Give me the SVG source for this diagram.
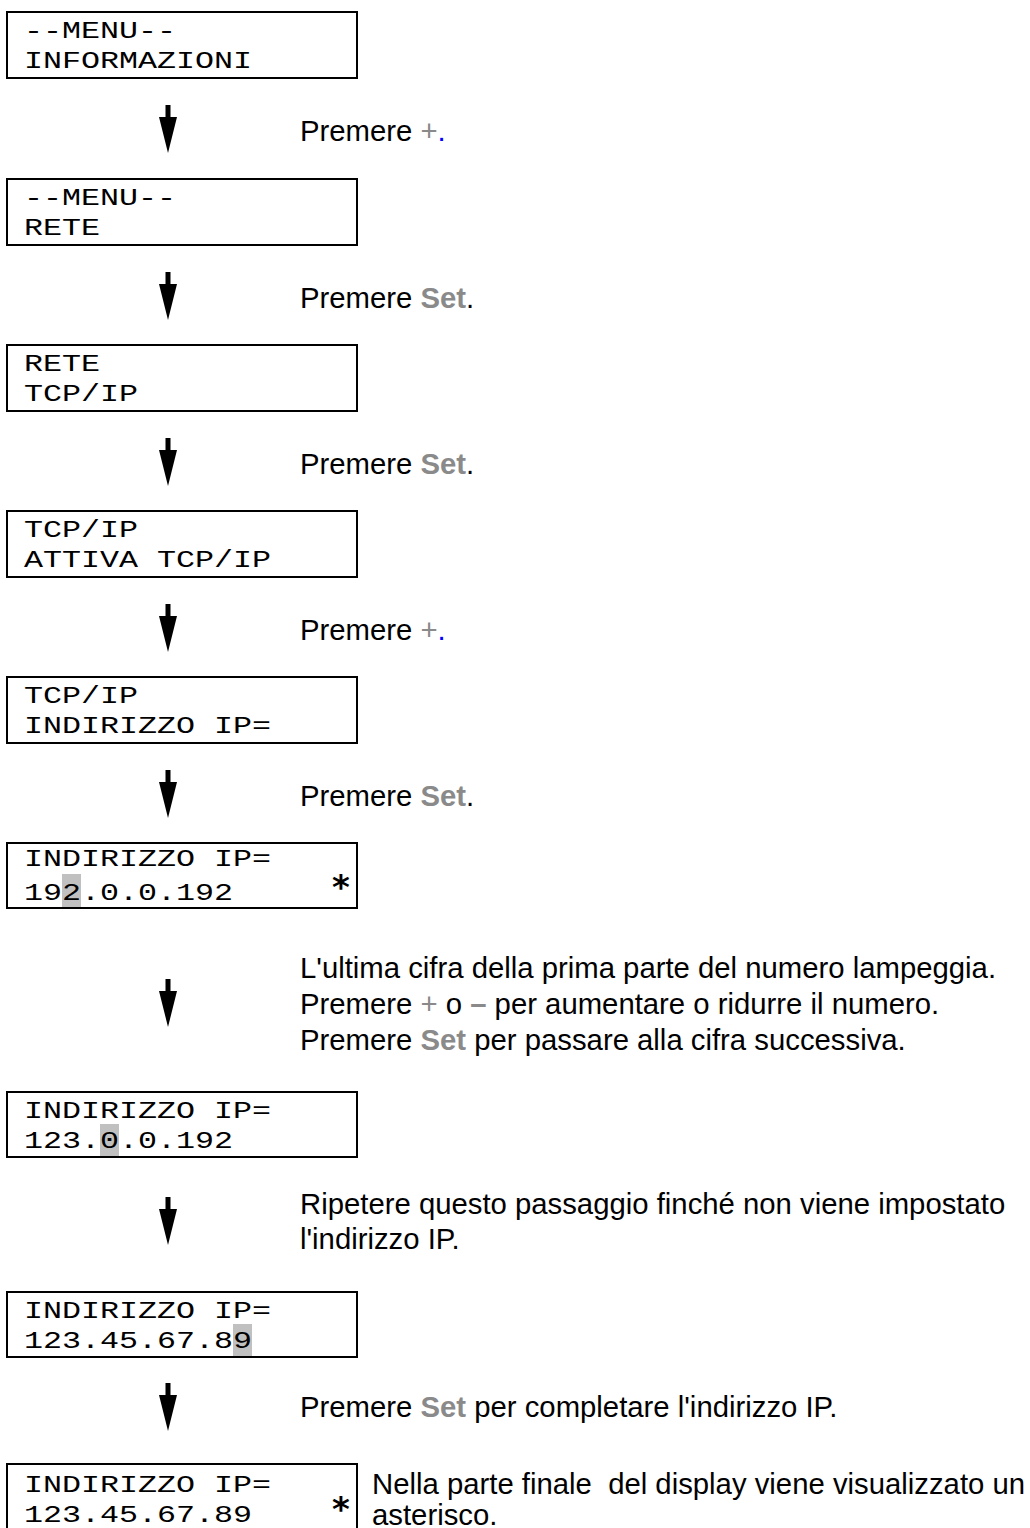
<svg xmlns="http://www.w3.org/2000/svg" xmlns:xlink="http://www.w3.org/1999/xlink" width="1030" height="1528" viewBox="0 0 1030 1528">
<style>
.box{fill:#fff;stroke:#000;stroke-width:2}
.mono{font-family:"Liberation Mono","Courier New",monospace;font-size:24px;fill:#000}
.sans{font-family:"Liberation Sans",Arial,sans-serif;font-size:29.3px;fill:#000}
.k{fill:#8a8a8a}
.kb{fill:#8a8a8a;font-weight:bold}
.blue{fill:#0000ff}
.hl{fill:#c0c0c0}
.ast{font-family:"DejaVu Sans",sans-serif;font-weight:bold;font-size:34px;fill:#000}
</style>
<defs>
<path id="arr" d="M-2.5,0 h5 v12 h6.5 L0,48 L-9,12 h6.5 z" fill="#000"/>
</defs>
<rect width="1030" height="1528" fill="#fff"/>

<g id="connectors">
<use xlink:href="#arr" x="168" y="105"/>
<use xlink:href="#arr" x="168" y="272"/>
<use xlink:href="#arr" x="168" y="438"/>
<use xlink:href="#arr" x="168" y="604"/>
<use xlink:href="#arr" x="168" y="770"/>
<use xlink:href="#arr" x="168" y="979"/>
<use xlink:href="#arr" x="168" y="1197"/>
<use xlink:href="#arr" x="168" y="1383"/>
</g>

<g id="node1">
<rect class="box" x="7" y="12" width="350" height="66"/>
<text class="mono" x="24" y="37.5" textLength="152" lengthAdjust="spacingAndGlyphs">--MENU--</text>
<text class="mono" x="24" y="68" textLength="228" lengthAdjust="spacingAndGlyphs">INFORMAZIONI</text>
</g>
<g id="label1"><text class="sans" x="300" y="140.5">Premere <tspan class="k">+</tspan><tspan class="blue">.</tspan></text></g>

<g id="node2">
<rect class="box" x="7" y="179" width="350" height="66"/>
<text class="mono" x="24" y="204.5" textLength="152" lengthAdjust="spacingAndGlyphs">--MENU--</text>
<text class="mono" x="24" y="235" textLength="76" lengthAdjust="spacingAndGlyphs">RETE</text>
</g>
<g id="label2"><text class="sans" x="300" y="307.5">Premere <tspan class="kb">Set</tspan>.</text></g>

<g id="node3">
<rect class="box" x="7" y="345" width="350" height="66"/>
<text class="mono" x="24" y="370.5" textLength="76" lengthAdjust="spacingAndGlyphs">RETE</text>
<text class="mono" x="24" y="401" textLength="114" lengthAdjust="spacingAndGlyphs">TCP/IP</text>
</g>
<g id="label3"><text class="sans" x="300" y="473.5">Premere <tspan class="kb">Set</tspan>.</text></g>

<g id="node4">
<rect class="box" x="7" y="511" width="350" height="66"/>
<text class="mono" x="24" y="536.5" textLength="114" lengthAdjust="spacingAndGlyphs">TCP/IP</text>
<text class="mono" x="24" y="567" textLength="247" lengthAdjust="spacingAndGlyphs">ATTIVA TCP/IP</text>
</g>
<g id="label4"><text class="sans" x="300" y="639.5">Premere <tspan class="k">+</tspan><tspan class="blue">.</tspan></text></g>

<g id="node5">
<rect class="box" x="7" y="677" width="350" height="66"/>
<text class="mono" x="24" y="702.5" textLength="114" lengthAdjust="spacingAndGlyphs">TCP/IP</text>
<text class="mono" x="24" y="733" textLength="247" lengthAdjust="spacingAndGlyphs">INDIRIZZO IP=</text>
</g>
<g id="label5"><text class="sans" x="300" y="805.5">Premere <tspan class="kb">Set</tspan>.</text></g>

<g id="node6">
<rect class="box" x="7" y="843" width="350" height="65"/>
<rect class="hl" x="62" y="874" width="19" height="33"/>
<text class="mono" x="24" y="866" textLength="247" lengthAdjust="spacingAndGlyphs">INDIRIZZO IP=</text>
<text class="mono" x="24" y="900" textLength="209" lengthAdjust="spacingAndGlyphs">192.0.0.192</text>
<text class="ast" x="341" y="899" text-anchor="middle">*</text>
</g>
<g id="label6">
<text class="sans" x="300" y="978">L'ultima cifra della prima parte del numero lampeggia.</text>
<text class="sans" x="300" y="1014">Premere <tspan class="k">+</tspan> o <tspan class="kb">–</tspan> per aumentare o ridurre il numero.</text>
<text class="sans" x="300" y="1050">Premere <tspan class="kb">Set</tspan> per passare alla cifra successiva.</text>
</g>

<g id="node7">
<rect class="box" x="7" y="1092" width="350" height="65"/>
<rect class="hl" x="100" y="1124" width="19" height="32"/>
<text class="mono" x="24" y="1117.5" textLength="247" lengthAdjust="spacingAndGlyphs">INDIRIZZO IP=</text>
<text class="mono" x="24" y="1148" textLength="209" lengthAdjust="spacingAndGlyphs">123.0.0.192</text>
</g>
<g id="label7">
<text class="sans" x="300" y="1214">Ripetere questo passaggio finché non viene impostato</text>
<text class="sans" x="300" y="1249">l'indirizzo IP.</text>
</g>

<g id="node8">
<rect class="box" x="7" y="1292" width="350" height="65"/>
<rect class="hl" x="233" y="1324" width="19" height="32"/>
<text class="mono" x="24" y="1317.5" textLength="247" lengthAdjust="spacingAndGlyphs">INDIRIZZO IP=</text>
<text class="mono" x="24" y="1348" textLength="228" lengthAdjust="spacingAndGlyphs">123.45.67.89</text>
</g>
<g id="label8"><text class="sans" x="300" y="1417">Premere <tspan class="kb">Set</tspan> per completare l'indirizzo IP.</text></g>

<g id="node9">
<rect class="box" x="7" y="1464" width="350" height="80"/>
<text class="mono" x="24" y="1492" textLength="247" lengthAdjust="spacingAndGlyphs">INDIRIZZO IP=</text>
<text class="mono" x="24" y="1522" textLength="228" lengthAdjust="spacingAndGlyphs">123.45.67.89</text>
<text class="ast" x="341" y="1521" text-anchor="middle">*</text>
</g>
<g id="label9">
<text class="sans" x="372" y="1494" xml:space="preserve">Nella parte finale  del display viene visualizzato un</text>
<text class="sans" x="372" y="1525">asterisco.</text>
</g>
</svg>
